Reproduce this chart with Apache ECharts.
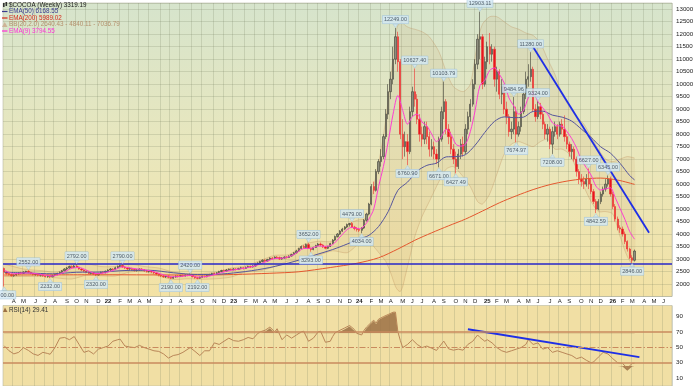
<!DOCTYPE html>
<html><head><meta charset="utf-8">
<script src="https://cdn.jsdelivr.net/npm/echarts@6/dist/echarts.min.js"></script>
<style>html,body{margin:0;padding:0;background:#fff}#c{width:698px;height:386px}</style>
</head><body><div id="c"></div>
<script>
// ---- Weekly candles [open, close, low, high] ----
const ohlc2021 = [
[2620,2480,1900,2660],[2480,2420,2380,2520],[2420,2380,2340,2460],[2380,2330,2300,2420],[2330,2360,2290,2400],
[2360,2400,2320,2440],[2400,2450,2370,2480],[2450,2420,2380,2490],[2420,2480,2400,2510],[2480,2510,2440,2530],
[2510,2470,2430,2552],[2470,2420,2380,2490],[2420,2380,2340,2450],[2380,2400,2330,2430],[2400,2350,2310,2420],
[2350,2380,2300,2410],[2380,2330,2290,2400],[2330,2300,2260,2360],[2300,2340,2250,2370],[2340,2290,2232,2360],
[2290,2340,2270,2370],[2340,2380,2310,2400],[2380,2420,2350,2450],[2420,2470,2400,2500],[2470,2530,2440,2560],
[2530,2600,2510,2630],[2600,2640,2560,2680],[2640,2700,2610,2730],[2700,2660,2620,2740],[2660,2720,2640,2760],
[2720,2680,2640,2792],[2680,2600,2570,2700],[2600,2560,2520,2640],[2560,2520,2480,2590],[2520,2470,2440,2550],
[2470,2420,2390,2500],[2420,2450,2380,2480],[2450,2400,2360,2470],[2400,2360,2320,2430],[2360,2420,2340,2450],
[2420,2470,2400,2500],[2470,2450,2410,2510],[2450,2510,2430,2540]];
const ohlc2022 = [
[2510,2560,2480,2590],[2560,2600,2530,2640],[2600,2580,2540,2640],[2580,2650,2560,2690],[2650,2700,2620,2740],
[2700,2740,2670,2770],[2740,2680,2650,2790],[2680,2640,2600,2710],[2640,2600,2560,2670],[2600,2620,2560,2660],
[2620,2580,2540,2650],[2580,2540,2500,2610],[2540,2560,2500,2600],[2560,2600,2530,2630],[2600,2570,2530,2640],
[2570,2530,2490,2600],[2530,2500,2460,2560],[2500,2520,2460,2550],[2520,2480,2440,2550],[2480,2440,2400,2510],
[2440,2400,2360,2470],[2400,2350,2310,2430],[2350,2320,2280,2380],[2320,2290,2250,2360],[2290,2320,2240,2350],
[2320,2270,2230,2340],[2270,2230,2190,2300],[2230,2280,2210,2310],[2280,2320,2250,2350],[2320,2300,2260,2360],
[2300,2340,2280,2370],[2340,2320,2280,2380],[2320,2360,2300,2390],[2360,2350,2310,2400],[2350,2380,2320,2420],
[2380,2300,2260,2400],[2300,2250,2210,2320],[2250,2230,2192,2290],[2230,2270,2210,2300],[2270,2310,2250,2340],
[2310,2290,2260,2340],[2290,2340,2270,2370],[2340,2380,2320,2410],[2380,2420,2360,2450],[2420,2400,2370,2460],
[2400,2450,2380,2480],[2450,2500,2430,2530],[2500,2540,2470,2570],[2540,2520,2490,2580],[2520,2560,2500,2600],
[2560,2590,2530,2620],[2590,2570,2540,2620]];
const ohlc2023 = [
[2570,2600,2550,2640],[2600,2580,2540,2640],[2580,2620,2560,2650],[2620,2650,2590,2690],[2650,2620,2580,2680],
[2620,2660,2600,2700],[2660,2700,2640,2730],[2700,2680,2640,2740],[2680,2720,2660,2750],[2720,2780,2700,2810],
[2780,2840,2760,2870],[2840,2900,2820,2930],[2900,2950,2870,2990],[2950,2920,2880,2990],[2920,2980,2900,3010],
[2980,3040,2950,3070],[3040,3020,2980,3080],[3020,3080,3000,3110],[3080,3060,3020,3120],[3060,3000,2960,3100],
[3000,3040,2970,3080],[3040,3080,3010,3110],[3080,3060,3020,3120],[3060,3120,3040,3150],[3120,3180,3100,3210],
[3180,3250,3150,3280],[3250,3320,3220,3360],[3320,3420,3300,3450],[3420,3500,3390,3540],[3500,3460,3420,3560],
[3460,3580,3440,3620],[3580,3420,3400,3652],[3420,3380,3293,3460],[3380,3460,3350,3490],[3460,3540,3440,3570],
[3540,3600,3510,3640],[3600,3560,3520,3660],[3560,3480,3440,3600],[3480,3430,3390,3520],[3430,3500,3400,3530],
[3500,3620,3480,3650],[3620,3760,3600,3800],[3760,3900,3730,3940],[3900,4000,3860,4040],[4000,4120,3970,4160],
[4120,4200,4080,4250],[4200,4280,4160,4320],[4280,4380,4240,4420],[4380,4420,4300,4450],[4420,4280,4240,4479],
[4280,4220,4150,4330],[4220,4180,4100,4280]];
const ohlc2024 = [
[4180,4150,4080,4250],[4150,4240,4034,4280],[4240,4550,4200,4600],[4550,4800,4500,4850],[4800,5200,4750,5250],
[5200,5900,5150,6000],[5900,5750,5600,6100],[5750,6500,5700,6600],[6500,6900,6400,7000],[6900,7100,6700,7400],
[7100,7900,7000,8000],[7900,8800,7800,9000],[8800,9700,8600,10000],[9700,10200,9400,10500],[10200,11000,10000,11500],
[11000,11900,10800,12249],[11900,10900,10500,12100],[10900,8000,7800,11000],[8000,7500,7000,8600],[7500,7700,7100,8100],
[7700,7300,6760.9,8000],[7300,8900,7200,9100],[8900,9700,8700,9900],[9700,9400,9100,10627.4],[9400,8600,8400,9600],
[8600,8000,7700,8800],[8000,7800,7500,8300],[7800,8300,7600,8500],[8300,7900,7600,8500],[7900,7400,7100,8100],
[7400,7500,7100,7800],[7500,7200,7000,7700],[7200,7000,6800,7400],[7000,7800,6671,7900],[7800,8900,7700,9100],
[8900,9300,8600,10103.79],[9300,8200,8000,9400],[8200,7900,7600,8400],[7900,7400,7200,8100],[7400,7000,6800,7600],
[7000,6700,6427.49,7300],[6700,7200,6600,7400],[7200,7600,7000,7800],[7600,7300,7100,7900],[7300,8200,7200,8400],
[8200,8700,8000,8900],[8700,9200,8500,9400],[9200,10000,9100,10200],[10000,10800,9800,11000],[10800,11800,10600,12000],
[11800,11900,11000,12903.11],[11900,10000,9800,12000]];
const ohlc2025 = [
[10000,10900,9900,11100],[10900,11500,10600,11700],[11500,11200,10800,12050],[11200,11400,10900,11600],[11400,10200,9900,11500],
[10200,10500,9700,10700],[10500,9600,9400,10600],[9600,9900,9200,10200],[9900,9000,8800,10000],[9000,8700,8400,9300],
[8700,8100,7900,8800],[8100,8200,7800,8500],[8200,8900,8000,9484.96],[8900,8000,7674.97,9100],[8000,8300,7900,8500],
[8300,8900,8100,9100],[8900,9600,8800,9800],[9600,10200,9400,10500],[10200,10300,9900,10800],[10300,10600,10100,11280],
[10600,9000,8900,10700],[9000,8700,8500,9200],[8700,9100,8600,9324],[9100,8800,8600,9250],[8800,8400,8200,8900],
[8400,8000,7800,8500],[8000,8200,7700,8400],[8200,7600,7400,8300],[7600,8100,7208,8300],[8100,8300,7900,8500],
[8300,8000,7800,8400],[8000,8400,7900,8500],[8400,8200,8000,8600],[8200,7900,7700,8750],[7900,7600,7400,8000],
[7600,7300,7100,7700],[7300,7400,7000,7600],[7400,7000,6900,7500],[7000,6500,6300,7100],[6500,6200,6000,6600],
[6200,6100,5900,6400],[6100,6000,5800,6300],[6000,6200,5900,6400],[6200,6000,5800,6627],[6000,5700,5600,6200],
[5700,5300,5200,5800],[5300,5000,4842.59,5400],[5000,5300,4950,5400],[5300,5600,5200,5700],[5600,5800,5500,5900],
[5800,6000,5700,6200],[6000,6200,5900,6345]];
const ohlc2026 = [
[6200,5600,5500,6300],[5600,5100,5000,5700],[5100,4600,4500,5200],[4600,4250,4150,4700],[4250,4200,4050,4350],
[4200,4000,3900,4300],[4000,3700,3600,4100],[3700,3400,3300,3750],[3400,3050,3000,3450],[3050,2950,2846,3150],
[2950,3319.19,2900,3380]];

// ---- Overlays (week index, value) ----
const ema9Idx = [0,4,8,12,16,20,24,28,31,34,38,42,46,49,53,57,61,65,69,73,77,80,84,88,92,96,100,104,108,112,116,120,124,127,130,133,136,139,142,144,147,149,151,153,155,157,159,161,163,165,167,169,171,173,175,177,179,181,183,185,187,189,191,193,195,197,199,201,203,205,207,209,211,213,215,217,219,221,223,225,227,229,231,233,235,237,239,241,243,245,247,249,251,253,255,257,259,261];
const ema9Val = [2560,2410,2440,2430,2370,2320,2440,2630,2660,2560,2420,2450,2580,2690,2630,2580,2520,2400,2290,2300,2350,2280,2300,2400,2510,2580,2640,2730,2880,3020,3040,3180,3420,3430,3520,3510,3580,3880,4180,4270,4210,4320,4600,5000,5900,6700,7700,8800,9550,8950,8400,8700,8800,8480,8330,8000,7700,7900,8200,8000,7600,7520,7600,8100,8950,9950,10150,10550,10650,10400,10050,9450,9130,8800,8950,9450,9650,9300,9050,8800,8450,8340,8320,8100,7820,7440,6970,6660,6360,5920,5760,5810,5850,5460,5020,4590,4100,3795];
const ema50Idx = [0,10,20,30,40,50,60,70,80,90,100,110,120,128,136,142,147,151,155,159,163,167,171,175,179,183,187,191,195,199,203,207,211,215,219,223,227,231,235,239,243,247,251,255,259,261];
const ema50Val = [2470,2440,2410,2470,2480,2540,2550,2450,2380,2400,2500,2660,2900,3140,3380,3600,3800,3950,4300,4900,5750,6080,6520,6750,6840,7090,7100,7180,7560,8070,8510,8690,8660,8680,8910,8920,8760,8680,8520,8200,7870,7490,7240,6830,6340,6168];
const ema200Idx = [0,40,80,95,110,122,135,146,155,163,170,177,184,191,198,205,212,219,226,233,240,247,254,261];
const ema200Val = [2360,2370,2360,2380,2430,2490,2660,2830,3050,3400,3750,4050,4330,4600,4920,5250,5530,5780,5980,6120,6210,6240,6160,5989];
const bbIdx = [0,8,16,22,28,34,40,46,52,58,64,70,76,82,88,94,100,106,112,118,124,130,136,142,146,150,153,156,158,160,162,163,164,165,166,168,170,173,176,180,183,186,190,193,196,198,201,204,207,210,213,216,219,222,225,228,231,234,237,240,243,246,249,252,255,258,261];
const bbUpper = [2800,2600,2530,2470,2780,2820,2700,2700,2800,2700,2640,2480,2400,2420,2480,2640,2720,2940,3150,3180,3580,3710,3720,4360,4550,4650,5900,7350,8600,10200,12000,12350,12450,12450,12350,12250,12200,12100,11900,11300,10500,9900,9700,10000,11700,12400,12700,12700,12500,12300,12200,12050,11950,11650,11000,10400,9600,9100,8700,8400,7900,7400,7000,6900,7000,7100,7037];
const bbLower = [2300,2300,2300,2240,2200,2350,2330,2320,2480,2500,2320,2180,2210,2190,2210,2280,2480,2530,2700,2930,2910,3140,3330,3250,3550,3850,3500,3150,2900,2450,1900,1750,1700,1900,2300,3100,3900,4700,5300,6100,6600,6700,6300,5900,5300,5200,5600,6400,7200,7600,7700,7600,7500,7700,7800,7400,7400,7200,6600,5900,5300,4900,4900,4800,3900,3100,2640];
const rsiIdx = [0,2,4,6,8,10,12,14,16,18,19,21,23,25,27,29,31,33,35,37,39,41,43,45,47,48,50,52,54,56,58,60,62,64,66,68,70,72,74,77,79,81,83,85,87,89,91,93,95,97,99,101,103,105,106,108,110,112,113,115,117,119,121,123,124,126,128,130,131,133,135,136,137,139,141,143,145,146,148,149,150,152,153,154,155,157,159,161,162,163,164,165,167,169,171,173,175,177,179,180,182,184,186,188,190,192,194,196,197,199,200,202,204,206,208,210,212,214,216,217,219,221,223,225,227,229,231,233,235,237,239,241,243,244,246,248,250,252,254,256,258,260,261];
const rsiVal = [52,45.5,41.5,43.5,49.5,46,41.5,39.5,43.5,42,41,49.5,61.8,62.7,59.8,63.9,53.7,43.5,45.5,41.4,47.6,49.6,51.6,57.8,59.8,60.5,51.6,50.4,49.6,52.5,49.6,47.6,45.5,44.7,41.4,36.1,39.4,40.6,43.5,49.6,44.7,39.4,45.5,45.5,55.7,53.7,57.8,61.8,58.6,57.8,59.8,62.7,61,68,70,72,76.1,70,74,59.8,65.9,61.8,65.9,70,70.8,57.8,61.8,70,70.8,56.5,57.8,63.9,68.8,72,75,78.2,73,68,65.9,72,76.1,82.2,85,81.4,86.3,89.6,92.4,95.3,95.5,70,59,49.6,53.7,59.8,53.7,49.6,51.6,48.8,46,50,58,48,46.3,47.6,46.3,53.7,57.8,65.9,62.7,57.8,59.8,55.7,49.6,45.5,43.5,45.5,47.6,49.6,53.7,59.8,53.7,55.7,47.6,49.6,43.5,45.5,43.5,41.4,39.4,35.3,37.3,33.3,30,31,37.3,43.5,41.4,35.3,30,29.2,23,29.2,29.41];

// ---- Drawn lines and annotations ----
const supportLevel = 2830;
const trendIdx = [219, 267];
const trendVal = [11490, 4050];
const rsiTrendIdx = [192, 263];
const rsiTrendVal = [73.2, 37.3];
const annotIdx = [0,10,19,30,38,49,69,77,80,126,127,144,148,162,167,170,180,182,187,197,211,212,218,221,227,242,245,250,260];
const annotVal = [1900,2552,2232,2792,2320,2790,2190,2420,2192,3652,3293,4479,4034,12249,6760.90,10627.40,6671,10103.79,6427.49,12903.11,9484.96,7674.97,11280,9324,7208,6627,4842.59,6345,2846];
const annotSide = ['L','H','L','H','L','H','L','H','L','H','L','H','L','H','L','H','L','H','L','H','H','L','H','H','L','H','L','H','L'];
const rsiLevels = [70, 50, 30];
const yLabels = [2000,2500,3000,3500,4000,4500,5000,5500,6000,6500,7000,7500,8000,8500,9000,9500,10000,10500,11000,11500,12000,12500,13000];
const rsiLabels = [10,30,50,70,90];
const monthLetters = ['J','F','M','A','M','J','J','A','S','O','N','D'];

const ohlc = [].concat(ohlc2021, ohlc2022, ohlc2023, ohlc2024, ohlc2025, ohlc2026);
const START = Date.UTC(2021, 2, 8);
const NWEEKS = 277;
const weeks = [];
for (let i = 0; i < NWEEKS; i++) weeks.push(new Date(START + i * 7 * 86400000).toISOString().slice(0, 10));

const pairs = (idx, val) => idx.map((x, k) => [x, val[k]]);
const FONT = '"Liberation Sans", Arial, sans-serif';
const monthStart = (i, v) => +String(v).slice(8, 10) <= 7;
const monthFmt = v => { const m = +v.slice(5, 7); return m === 1 ? '{y|' + v.slice(2, 4) + '}' : monthLetters[m - 1]; };
const GRIDC = 'rgba(110,120,90,0.2)';

function xa(gi, lbl, split) {
  return {
    type: 'category', gridIndex: gi, data: weeks, boundaryGap: true, show: gi < 2,
    axisLine: {show: false}, axisTick: {show: false},
    axisLabel: {show: lbl, interval: monthStart, formatter: monthFmt, fontSize: 6, color: '#222', margin: 1.5, fontFamily: FONT,
      rich: {y: {fontWeight: 'bold', fontSize: 6, color: '#222', fontFamily: FONT}}},
    splitLine: {show: split, interval: monthStart, lineStyle: {color: GRIDC, width: 1}}
  };
}

const chart = echarts.init(document.getElementById('c'));
const ann = annotIdx.map((x, k) => {
  const hi = annotSide[k] === 'H';
  return {value: [x, annotVal[k]], symbolRotate: hi ? 180 : 0, symbolOffset: [0, hi ? -2.2 : 2.2],
    label: {position: hi ? 'top' : 'bottom', distance: 0.3}};
});

chart.setOption({
  animation: false,
  backgroundColor: '#ffffff',
  grid: [
    {left: 3, top: 3, width: 669, height: 293.5, show: true, borderColor: '#b9b9a4', borderWidth: 0.6,
      backgroundColor: new echarts.graphic.LinearGradient(0, 0, 0, 1, [{offset: 0, color: '#d6e4cc'}, {offset: 0.5, color: '#e9e7bd'}, {offset: 1, color: '#f3e2a5'}])},
    {left: 3, top: 305.5, width: 669, height: 85, show: true, borderColor: '#b9b9a4', borderWidth: 0.6, backgroundColor: '#f1dfa4'},
    {left: 3, top: 305.5, width: 669, height: 27.79},
    {left: 3, top: 365.98, width: 669, height: 24.52}
  ],
  xAxis: [xa(0, true, true), xa(1, false, true), xa(2, false, false), xa(3, false, false)],
  yAxis: [
    {type: 'value', gridIndex: 0, position: 'right', min: 1500, max: 13250, interval: 500,
      axisLine: {show: false}, axisTick: {show: false},
      axisLabel: {fontSize: 6.2, color: '#222', margin: 4, fontFamily: FONT, formatter: v => yLabels.includes(v) ? String(v) : ''},
      splitLine: {show: true, lineStyle: {color: GRIDC}}},
    {type: 'value', gridIndex: 1, position: 'right', min: 0, max: 104, interval: 10,
      axisLine: {show: false}, axisTick: {show: false},
      axisLabel: {fontSize: 6.2, color: '#222', margin: 4, fontFamily: FONT, formatter: v => rsiLabels.includes(v) ? String(v) : ''},
      splitLine: {show: false}},
    {type: 'value', gridIndex: 2, min: 70, max: 104, show: false},
    {type: 'value', gridIndex: 3, min: 0, max: 30, show: false}
  ],
  series: [
    {type: 'custom', xAxisIndex: 0, yAxisIndex: 0, z: 1, silent: true, data: [[0, 5000]],
      renderItem: (params, api) => {
        const up = bbIdx.map((x, k) => api.coord([x, bbUpper[k]]));
        const lo = bbIdx.map((x, k) => api.coord([x, bbLower[k]]));
        return {type: 'group', children: [
          {type: 'polygon', shape: {points: up.concat(lo.slice().reverse()), smooth: 0.25}, style: {fill: 'rgba(196,150,90,0.12)', stroke: 'none'}},
          {type: 'polyline', shape: {points: up, smooth: 0.25}, style: {fill: 'none', stroke: 'rgba(190,140,90,0.42)', lineWidth: 0.8}},
          {type: 'polyline', shape: {points: lo, smooth: 0.25}, style: {fill: 'none', stroke: 'rgba(190,140,90,0.42)', lineWidth: 0.8}}
        ]};
      }},
    {type: 'candlestick', xAxisIndex: 0, yAxisIndex: 0, z: 2, data: ohlc, barWidth: 1.8,
      itemStyle: {color: '#8e8e7e', color0: '#e8141c', borderColor: '#3e3e36', borderColor0: '#ee3030', borderWidth: 0.6},
      markLine: {silent: true, symbol: 'none', label: {show: false}, data: [{yAxis: supportLevel}],
        lineStyle: {color: '#2727c8', width: 1.5, type: 'solid'}}},
    {type: 'line', xAxisIndex: 0, yAxisIndex: 0, z: 3, data: pairs(ema200Idx, ema200Val), showSymbol: false, smooth: 0.3,
      lineStyle: {color: '#e4572e', width: 1}},
    {type: 'line', xAxisIndex: 0, yAxisIndex: 0, z: 3, data: pairs(ema50Idx, ema50Val), showSymbol: false, smooth: 0.3,
      lineStyle: {color: '#56569c', width: 1}},
    {type: 'line', xAxisIndex: 0, yAxisIndex: 0, z: 3, data: pairs(ema9Idx, ema9Val), showSymbol: false, smooth: 0.3,
      lineStyle: {color: '#ff3dd2', width: 1}},
    {type: 'line', xAxisIndex: 0, yAxisIndex: 0, z: 4, data: pairs(trendIdx, trendVal), showSymbol: false,
      lineStyle: {color: '#1f2fe6', width: 1.8}},
    {type: 'scatter', xAxisIndex: 0, yAxisIndex: 0, z: 6, silent: true, symbol: 'triangle', symbolSize: [5, 3.5],
      itemStyle: {color: '#cfe6f3', borderColor: '#9dbfd3', borderWidth: 0.5},
      label: {show: true, formatter: p => p.value[1].toFixed(2), fontSize: 5.5, fontFamily: FONT, color: '#2c3a4a',
        backgroundColor: '#d3e9f5', borderColor: '#9dbfd3', borderWidth: 0.5, padding: [1.2, 1.5, 0.6, 1.5]},
      data: ann},
    {type: 'line', xAxisIndex: 1, yAxisIndex: 1, z: 3, data: pairs(rsiIdx, rsiVal), showSymbol: false,
      lineStyle: {color: '#b98658', width: 1},
      markLine: {silent: true, symbol: 'none', label: {show: false},
        data: rsiLevels.map(v => ({yAxis: v, lineStyle: {color: '#c98a5e', width: v === 50 ? 1 : 1.5, type: v === 50 ? [6, 2, 1.5, 2] : 'solid'}}))}},
    {type: 'line', xAxisIndex: 2, yAxisIndex: 2, z: 2, data: pairs(rsiIdx, rsiVal), showSymbol: false,
      lineStyle: {width: 0}, areaStyle: {color: '#9c7145', opacity: 0.85, origin: 'start'}},
    {type: 'line', xAxisIndex: 3, yAxisIndex: 3, z: 2, data: pairs(rsiIdx, rsiVal), showSymbol: false,
      lineStyle: {width: 0}, areaStyle: {color: '#9c7145', opacity: 0.85, origin: 'end'}},
    {type: 'line', xAxisIndex: 1, yAxisIndex: 1, z: 4, data: pairs(rsiTrendIdx, rsiTrendVal), showSymbol: false,
      lineStyle: {color: '#1f2fe6', width: 2}}
  ],
  graphic: [
    {type: 'rect', shape: {x: 3, y: 3, width: 1.6, height: 4}, style: {fill: '#333'}, z: 10},
    {type: 'rect', shape: {x: 5.5, y: 2, width: 1.6, height: 4}, style: {fill: '#333'}, z: 10},
    {type: 'text', x: 9, y: 5, z: 10, style: {text: '$COCOA (Weekly) 3319.19', fill: '#222', font: '6.3px ' + FONT, verticalAlign: 'middle'}},
    {type: 'line', shape: {x1: 2, y1: 11.5, x2: 7.5, y2: 11.5}, style: {stroke: '#3b3b8f', lineWidth: 1.2}, z: 10},
    {type: 'text', x: 9, y: 11.5, z: 10, style: {text: 'EMA(50) 6168.55', fill: '#3b3b8f', font: '6.3px ' + FONT, verticalAlign: 'middle'}},
    {type: 'line', shape: {x1: 2, y1: 18, x2: 7.5, y2: 18}, style: {stroke: '#d42a1c', lineWidth: 1.2}, z: 10},
    {type: 'text', x: 9, y: 18, z: 10, style: {text: 'EMA(200) 5989.02', fill: '#d42a1c', font: '6.3px ' + FONT, verticalAlign: 'middle'}},
    {type: 'polygon', shape: {points: [[2, 27], [4.8, 22], [7.5, 27]]}, style: {fill: '#cdb497'}, z: 10},
    {type: 'text', x: 9, y: 24.5, z: 10, style: {text: 'BB(20,2.0) 2640.43 - 4840.11 - 7036.79', fill: '#b4906c', font: '6.3px ' + FONT, verticalAlign: 'middle'}},
    {type: 'line', shape: {x1: 2, y1: 31, x2: 7.5, y2: 31}, style: {stroke: '#ff2fd6', lineWidth: 1.2}, z: 10},
    {type: 'text', x: 9, y: 31, z: 10, style: {text: 'EMA(9) 3794.55', fill: '#ff2fd6', font: '6.3px ' + FONT, verticalAlign: 'middle'}},
    {type: 'polygon', shape: {points: [[3, 312], [5, 307.5], [7.5, 312]]}, style: {fill: '#9c7145'}, z: 10},
    {type: 'text', x: 9, y: 310, z: 10, style: {text: 'RSI(14) 29.41', fill: '#333', font: '6.3px ' + FONT, verticalAlign: 'middle'}}
  ]
});
</script></body></html>
